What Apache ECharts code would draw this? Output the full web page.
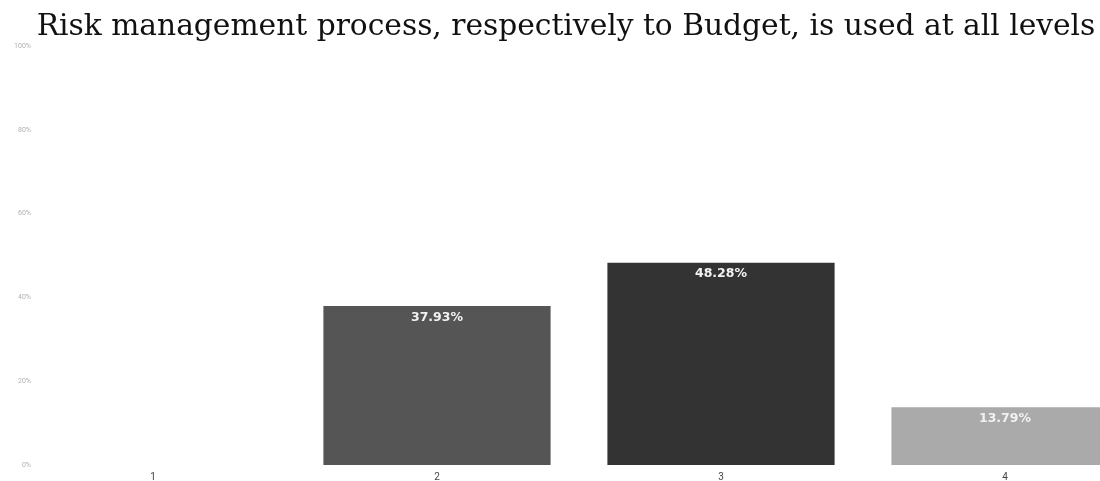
<!DOCTYPE html>
<html>
<head>
<meta charset="utf-8">
<script src="https://cdn.jsdelivr.net/npm/echarts@6/dist/echarts.min.js"></script>
<style>
  html, body { margin: 0; padding: 0; background: #ffffff; }
  #chart { width: 1100px; height: 481px; }
</style>
</head>
<body>
<div id="chart"></div>
<script>
const titleText = 'Risk management process, respectively to Budget, is used at all levels';
const categories = ['1', '2', '3', '4'];
const shares = [0, 37.93, 48.28, 13.79];
const barColors = ['#555555', '#555555', '#333333', '#aaaaaa'];
const yTicks = [0, 20, 40, 60, 80, 100];

const chart = echarts.init(document.getElementById('chart'));

chart.setOption({
  animation: false,
  backgroundColor: '#ffffff',
  title: {
    text: titleText,
    left: 565,
    textAlign: 'center',
    top: 7,
    textStyle: {
      fontFamily: 'DejaVu Serif',
      fontWeight: 'normal',
      fontSize: 29.7,
      color: '#111111'
    }
  },
  // the plot runs past the right edge, so the last bar is cut off
  grid: {
    left: 11, width: 1136, top: 46, bottom: 16,
    containLabel: false, outerBoundsMode: 'none'
  },
  xAxis: {
    type: 'category',
    data: categories,
    axisLine: { show: false },
    axisTick: { show: false },
    axisLabel: { color: '#444444', fontSize: 10, margin: 7, fontFamily: 'Roboto' }
  },
  yAxis: {
    type: 'value',
    min: yTicks[0],
    max: yTicks[yTicks.length - 1],
    interval: yTicks[1] - yTicks[0],
    splitLine: { show: false },
    axisLine: { show: false },
    axisTick: { show: false },
    axisLabel: {
      formatter: '{value}%',
      color: '#b0b0b0',
      fontSize: 7,
      margin: -20,
      fontFamily: 'Roboto'
    }
  },
  series: [{
    type: 'bar',
    barWidth: '80%',
    data: shares.map((v, i) => ({ value: v, itemStyle: { color: barColors[i] } })),
    label: {
      show: true,
      position: 'insideTop',
      distance: 5,
      color: '#f2f2f2',
      fontWeight: 'bold',
      fontSize: 12.5,
      fontFamily: 'DejaVu Sans',
      formatter: p => (p.value > 0 ? p.value.toFixed(2) + '%' : '')
    }
  }]
});
chart.setOption({ title: { left: 561 } });
</script>
</body>
</html>
